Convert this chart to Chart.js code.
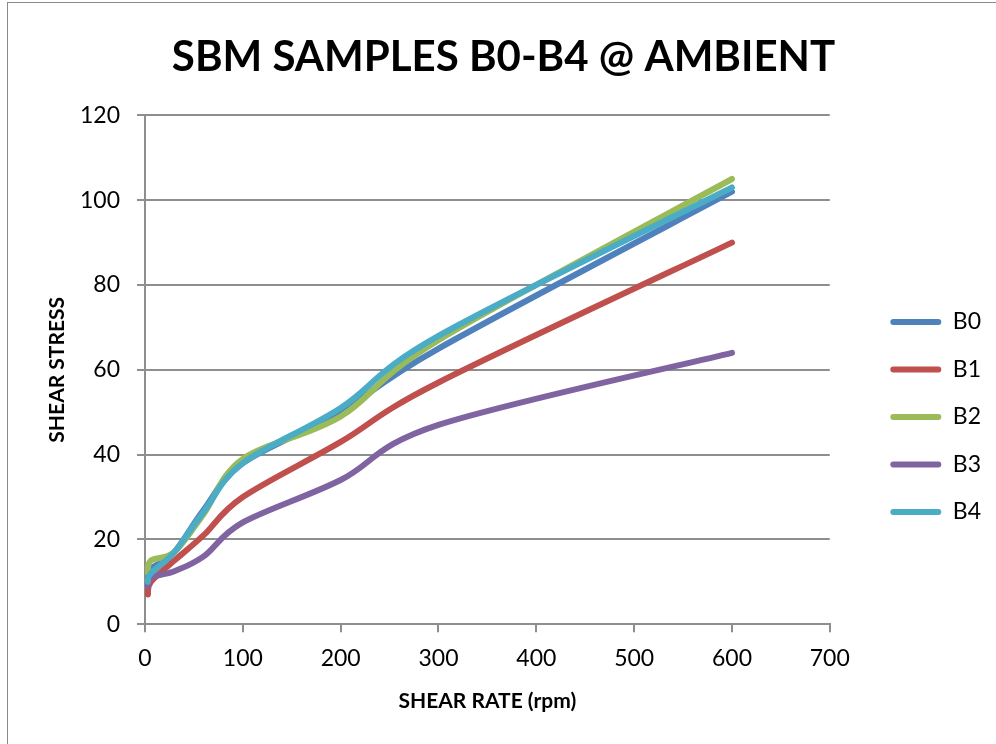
<!DOCTYPE html>
<html>
<head>
<meta charset="utf-8">
<title>SBM SAMPLES B0-B4 @ AMBIENT</title>
<script src="https://cdn.jsdelivr.net/npm/chart.js@4.4.1/dist/chart.umd.min.js"></script>
<style>
  html, body { margin: 0; padding: 0; background: #fff; overflow: hidden; }
  #wrap { position: relative; width: 996px; height: 744px; }
  #frame { position: absolute; left: 7px; top: 2px; width: 1200px; height: 1000px; border: 1.5px solid #8a8a8a; }
  #chart { position: absolute; left: 0; top: 0; }
</style>
</head>
<body>
<div id="wrap">
  <div id="frame"></div>
  <canvas id="chart" width="996" height="744"></canvas>
</div>
<script>
// shear rates (rpm) and dial readings per sample
const rates = [3, 6, 30, 60, 100, 200, 300, 600];
const b0 = [10, 13, 17, 27, 38, 50, 65, 102];
const b1 = [7, 10, 15, 21, 30, 43, 57, 90];
const b2 = [12, 15, 17, 26, 39, 49, 67, 105];
const b3 = [9, 11, 12.5, 16, 24, 34, 47, 64];
const b4 = [10, 12, 17, 26.5, 38, 51, 68, 103];

const names = ["B0", "B1", "B2", "B3", "B4"];
const series = [b0, b1, b2, b3, b4];
const colors = ["#4F81BD", "#C0504D", "#9BBB59", "#8064A2", "#4BACC6"];

const yTicks = [0, 20, 40, 60, 80, 100, 120];
const xTicks = [0, 100, 200, 300, 400, 500, 600, 700];

const FONT = "Lato, 'Open Sans', sans-serif";
const GRID = "#8e8e8e";

// Excel-style smoothing: control points = P +/- (Pnext - Pprev)/6
const excelSmooth = {
  id: "excelSmooth",
  beforeDatasetDraw(chart, args) {
    const meta = args.meta;
    const pts = meta.data;
    const n = pts.length;
    for (let i = 0; i < n; i++) {
      const a = pts[Math.max(i - 1, 0)];
      const c = pts[Math.min(i + 1, n - 1)];
      const dx = (c.x - a.x) / 6;
      const dy = (c.y - a.y) / 6;
      pts[i].cp1x = pts[i].x - dx;
      pts[i].cp1y = pts[i].y - dy;
      pts[i].cp2x = pts[i].x + dx;
      pts[i].cp2y = pts[i].y + dy;
    }
    meta.dataset._pointsUpdated = true;
    meta.dataset._path = undefined;
  }
};

// y axis title, placed next to the tick labels
const yTitle = {
  id: "yTitle",
  afterDraw(chart) {
    const { ctx, chartArea } = chart;
    ctx.save();
    ctx.translate(chart.scales.y.left + 41, (chartArea.top + chartArea.bottom) / 2);
    ctx.rotate(-Math.PI / 2);
    ctx.font = "bold 21px " + FONT;
    ctx.fillStyle = "#000";
    ctx.textAlign = "center";
    ctx.textBaseline = "middle";
    ctx.fillText("SHEAR STRESS", 0, 0);
    ctx.restore();
  }
};

const datasets = series.map((vals, i) => ({
  label: names[i],
  data: rates.map((r, j) => ({ x: r, y: vals[j] })),
  borderColor: colors[i],
  backgroundColor: colors[i],
  borderWidth: 6,
  borderCapStyle: "round",
  borderJoinStyle: "round",
  pointRadius: 0,
  tension: 0.3,
  order: series.length - 1 - i
}));

new Chart(document.getElementById("chart"), {
  type: "line",
  data: { datasets },
  plugins: [excelSmooth, yTitle],
  options: {
    responsive: false,
    animation: false,
    devicePixelRatio: 1,
    layout: { padding: { left: 16, right: 5, top: 0, bottom: 30 } },
    plugins: {
      tooltip: { enabled: false },
      title: {
        display: true,
        text: "SBM SAMPLES B0-B4 @ AMBIENT",
        color: "#000",
        font: { family: FONT, size: 42, weight: "bold" },
        padding: { top: 32, bottom: 33 }
      },
      legend: {
        position: "right",
        title: { display: true, text: "", font: { size: 10 }, padding: { top: 108, bottom: 0 } },
        labels: {
          color: "#000",
          font: { family: FONT, size: 23 },
          boxWidth: 51,
          boxHeight: 6,
          padding: 24.5,
          sort: (a, b) => a.datasetIndex - b.datasetIndex,
          generateLabels(chart) {
            return chart.data.datasets.map((ds, i) => ({
              text: ds.label,
              fillStyle: ds.borderColor,
              strokeStyle: ds.borderColor,
              fontColor: "#000",
              lineWidth: 0,
              borderRadius: 3,
              datasetIndex: i,
              hidden: false
            }));
          }
        }
      }
    },
    scales: {
      x: {
        type: "linear",
        min: 0,
        max: 700,
        afterBuildTicks(scale) { scale.ticks = xTicks.map(v => ({ value: v })); },
        grid: { drawOnChartArea: false, drawTicks: true, tickLength: 8, color: GRID, lineWidth: 2 },
        border: { display: true, color: GRID, width: 2 },
        ticks: { color: "#000", font: { family: FONT, size: 23 }, padding: 13, maxRotation: 0 },
        title: {
          display: true,
          text: "SHEAR RATE (rpm)",
          color: "#000",
          font: { family: FONT, size: 21, weight: "bold" },
          padding: { top: 3, bottom: 0 }
        }
      },
      y: {
        type: "linear",
        position: "left",
        min: 0,
        max: 120,
        afterBuildTicks(scale) { scale.ticks = yTicks.map(v => ({ value: v })); },
        afterFit(scale) { scale.width = 129; },
        grid: { drawTicks: true, tickLength: 8, color: GRID, lineWidth: 2 },
        border: { display: true, color: GRID, width: 2 },
        ticks: { color: "#000", font: { family: FONT, size: 23 }, padding: 17 }
      },
      gap: {
        type: "linear",
        position: "right",
        display: true,
        grid: { display: false },
        border: { display: false },
        ticks: { display: false },
        afterFit(scale) { scale.width = 36; }
      }
    }
  }
});
</script>
</body>
</html>
